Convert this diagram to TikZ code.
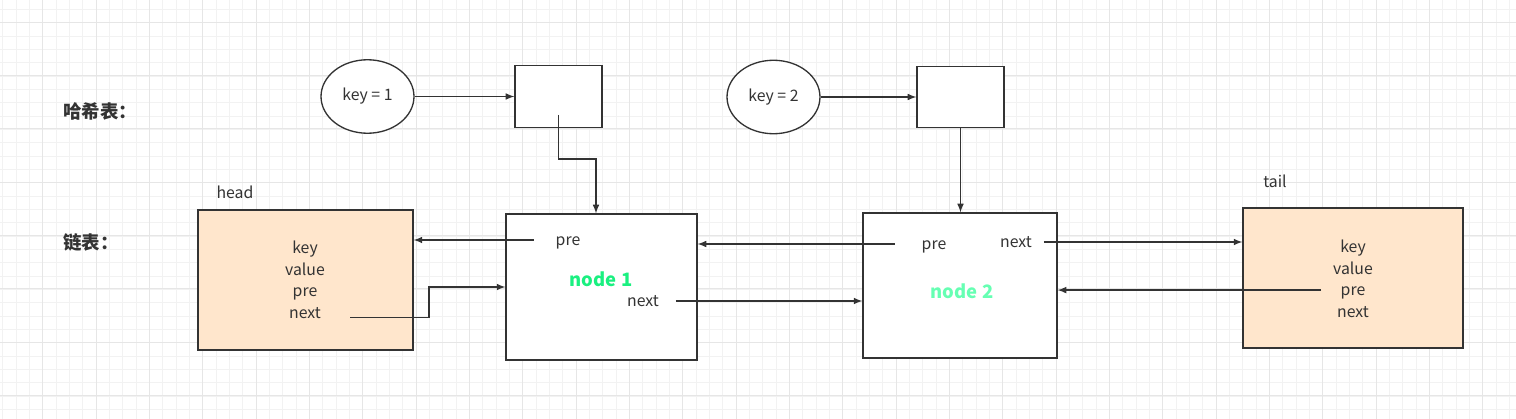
\documentclass[tikz,border=0pt]{standalone}
\usepackage{fontspec}
\setmainfont{Noto Sans CJK SC}
\usetikzlibrary{shapes.geometric, positioning, arrows}

\definecolor{linec}{HTML}{333333}
\definecolor{peach}{HTML}{FFE6CC}
\definecolor{nodeone}{HTML}{1AF080}
\definecolor{nodetwo}{HTML}{66FFB3}
\definecolor{gridminor}{HTML}{F2F2F2}
\definecolor{gridmajor}{HTML}{E6E6E6}

\begin{document}
\begin{tikzpicture}[
  x=0.02cm, y=-0.02cm,
  txt/.style={text=linec, font=\fontsize{9}{11}\selectfont, inner sep=1pt, text height=1.6ex, text depth=0.4ex},
  title/.style={text=linec, font=\fontsize{10.5}{12}\selectfont\bfseries, inner sep=0pt},
  cell/.style={draw=linec, line width=0.75pt, inner sep=0pt},
  entry/.style={cell, fill=peach, minimum width=4.3cm, minimum height=2.8cm},
  listnode/.style={cell, fill=white},
  keyellipse/.style={cell, ellipse, fill=white, minimum width=1.86cm, minimum height=1.47cm, font=\fontsize{9}{11}\selectfont, text=linec},
  slot/.style={cell, fill=white, minimum width=1.74cm, minimum height=1.23cm},
  arr/.style={-latex, draw=linec, line width=0.7pt},
]
\useasboundingbox (0,0) rectangle (1516,419);
\fill[white] (0,0) rectangle (1516,419);
% background grid
\foreach \i in {0,...,113}
  \draw[gridminor, line width=0.5pt] (2.7+13.333*\i,0) -- (2.7+13.333*\i,419);
\foreach \i in {0,...,31}
  \draw[gridminor, line width=0.5pt] (0,9.3+13.333*\i) -- (1516,9.3+13.333*\i);
\foreach \i in {0,...,28}
  \draw[gridmajor, line width=0.5pt] (42.7+53.333*\i,0) -- (42.7+53.333*\i,419);
\foreach \i in {0,...,7}
  \draw[gridmajor, line width=0.5pt] (0,22+53.333*\i) -- (1516,22+53.333*\i);

% titles
\node[title, anchor=west] (hashtitle) at (63,111) {哈希表：};
\node[title, anchor=west] (listtitle) at (63,242) {链表：};

% hash table
\node[keyellipse] (e1) at (367.5,96.5) {key = 1};
\node[slot] (h1) at (558.5,96.5) {};
\node[keyellipse] (e2) at (773.5,97) {key = 2};
\node[slot] (h2) at (960.5,97) {};

% linked list
\node[entry] (head) at (305.5,280) {};
\node[txt] at (235,193) {head};
\foreach \t [count=\i] in {key,value,pre,next}
  \node[txt] (h\t) at (305,226+21.7*\i) {\t};

\node[listnode, minimum width=3.82cm, minimum height=2.92cm] (n1) at (601.5,287) {};
\node[txt] (n1pre) at (568,240) {pre};
\node[txt, text=nodeone, font=\fontsize{10.5}{12}\selectfont\bfseries] (n1name) at (601,281) {node 1};
\node[txt] (n1next) at (643,301) {next};

\node[listnode, minimum width=3.88cm, minimum height=2.9cm] (n2) at (960,285.5) {};
\node[txt] (n2pre) at (934,244) {pre};
\node[txt] (n2next) at (1016,242) {next};
\node[txt, text=nodetwo, font=\fontsize{10.5}{12}\selectfont\bfseries] (n2name) at (962,293) {node 2};

\node[entry, minimum width=4.4cm] (tail) at (1353,278) {};
\node[txt] at (1275,182) {tail};
\foreach \t [count=\i] in {key,value,pre,next}
  \node[txt] (t\t) at (1353,225+21.7*\i) {\t};

% connectors
\draw[arr] (e1) -- (h1);
\draw[arr] (e2) -- (h2);
\coordinate (k1bend) at (596,159);
\draw[arr] ([yshift=-0.37cm]h1.center) |- (k1bend) -- (k1bend |- n1.north);
\draw[arr] (h2.south) -- (h2.south |- n2.north);

\draw[arr] ([xshift=-0.4cm]n1pre.west) -- (head.east |- n1pre.west);
\coordinate (hbend) at (429,287);
\draw[arr] ([xshift=0.55cm,yshift=-0.1cm]hnext.east) -| (hbend) -- (hbend -| n1.west);
\draw[arr] ([xshift=0.3cm]n1next.east) -- (n1next.east -| n2.west);
\draw[arr] ([xshift=-0.5cm]n2pre.west) -- (n2pre.west -| n1.east);
\draw[arr] ([xshift=0.2cm]n2next.east) -- (n2next.east -| tail.west);
\draw[arr] ([xshift=-0.35cm]tpre.west) -- (tpre.west -| n2.east);
\end{tikzpicture}
\end{document}
